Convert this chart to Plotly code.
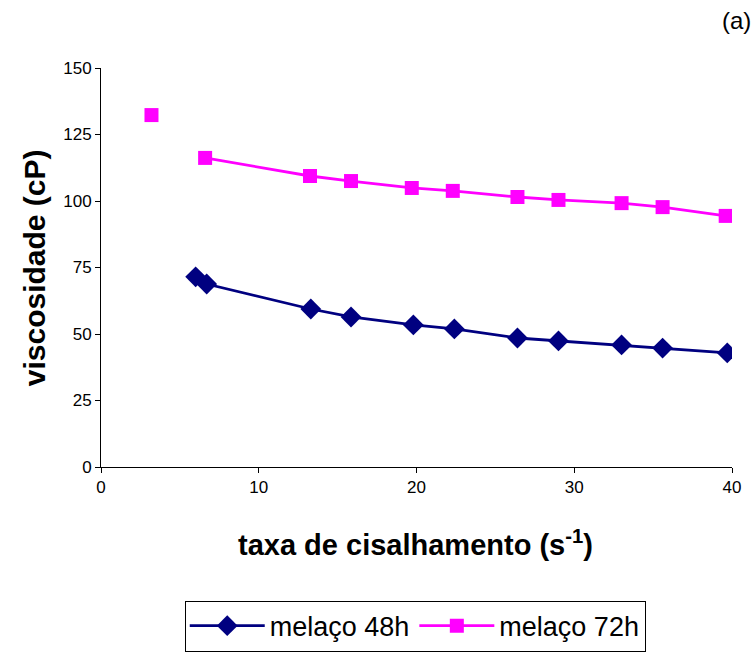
import plotly.graph_objects as go

# shear rate (s^-1) and viscosity (cP) for each molasses sample
rate_48h = [6.0, 6.7, 13.3, 15.85, 19.8, 22.4, 26.4, 29.0, 33.0, 35.6, 39.7]
visc_48h = [71.5, 68.8, 59.4, 56.4, 53.4, 51.9, 48.5, 47.4, 45.9, 44.7, 42.9]

rate_72h = [3.2, 6.6, 13.25, 15.85, 19.7, 22.3, 26.4, 29.0, 33.0, 35.6, 39.6]
visc_72h = [132.3, 116.2, 109.4, 107.5, 104.9, 103.8, 101.5, 100.4, 99.2, 97.7, 94.4]

x_ticks = [0, 10, 20, 30, 40]
y_ticks = [0, 25, 50, 75, 100, 125, 150]

FONT = "Arial, Liberation Sans, sans-serif"
BLUE = "#000080"
MAGENTA = "#FF00FF"

fig = go.Figure()

fig.add_trace(go.Scatter(
    x=rate_48h, y=visc_48h, mode="lines+markers", name="melaço 48h",
    line=dict(color=BLUE, width=2.8),
    marker=dict(symbol="diamond", size=16, color=BLUE),
    legendgroup="48h",
))

# the lowest shear point of 72h sits apart from the connected curve
fig.add_trace(go.Scatter(
    x=rate_72h[1:], y=visc_72h[1:], mode="lines+markers", name="melaço 72h",
    line=dict(color=MAGENTA, width=2.8),
    marker=dict(symbol="square", size=14, color=MAGENTA),
    legendgroup="72h",
))
fig.add_trace(go.Scatter(
    x=rate_72h[:1], y=visc_72h[:1], mode="markers", showlegend=False,
    marker=dict(symbol="square", size=14, color=MAGENTA),
    legendgroup="72h",
))

fig.update_layout(
    width=754, height=655,
    margin=dict(l=101, r=22, t=68, b=188, autoexpand=False),
    paper_bgcolor="white", plot_bgcolor="white",
    font=dict(family=FONT, size=17, color="black"),
    showlegend=True,
    legend=dict(
        orientation="h", x=0.498, y=-0.335, xanchor="center", yanchor="top",
        bordercolor="black", borderwidth=1, font=dict(size=27, family=FONT),
        itemwidth=75, tracegroupgap=0,
    ),
    xaxis=dict(
        range=[0, 40], tickvals=x_ticks, ticks="outside", ticklen=5,
        showline=True, linecolor="black", linewidth=1, tickcolor="black",
        showgrid=False, zeroline=False, tickfont=dict(size=17),
    ),
    yaxis=dict(
        range=[0, 150], tickvals=y_ticks, ticks="outside", ticklen=5,
        showline=True, linecolor="black", linewidth=1, tickcolor="black",
        showgrid=False, zeroline=False, tickfont=dict(size=17),
    ),
    annotations=[
        dict(text="<b>taxa de cisalhamento (s<sup>-1</sup>)</b>", xref="paper", yref="paper",
             x=0.498, y=-0.19, xanchor="center", yanchor="middle", showarrow=False,
             font=dict(size=29, family=FONT)),
        dict(text="<b>viscosidade (cP)</b>", xref="paper", yref="paper",
             x=-0.105, y=0.5, xanchor="center", yanchor="middle", showarrow=False,
             textangle=-90, font=dict(size=30, family=FONT)),
        dict(text="(a)", xref="paper", yref="paper",
             x=1.033, y=1.12, xanchor="right", yanchor="middle", showarrow=False,
             font=dict(size=24, family=FONT)),
    ],
)

fig.write_html("out.html")
